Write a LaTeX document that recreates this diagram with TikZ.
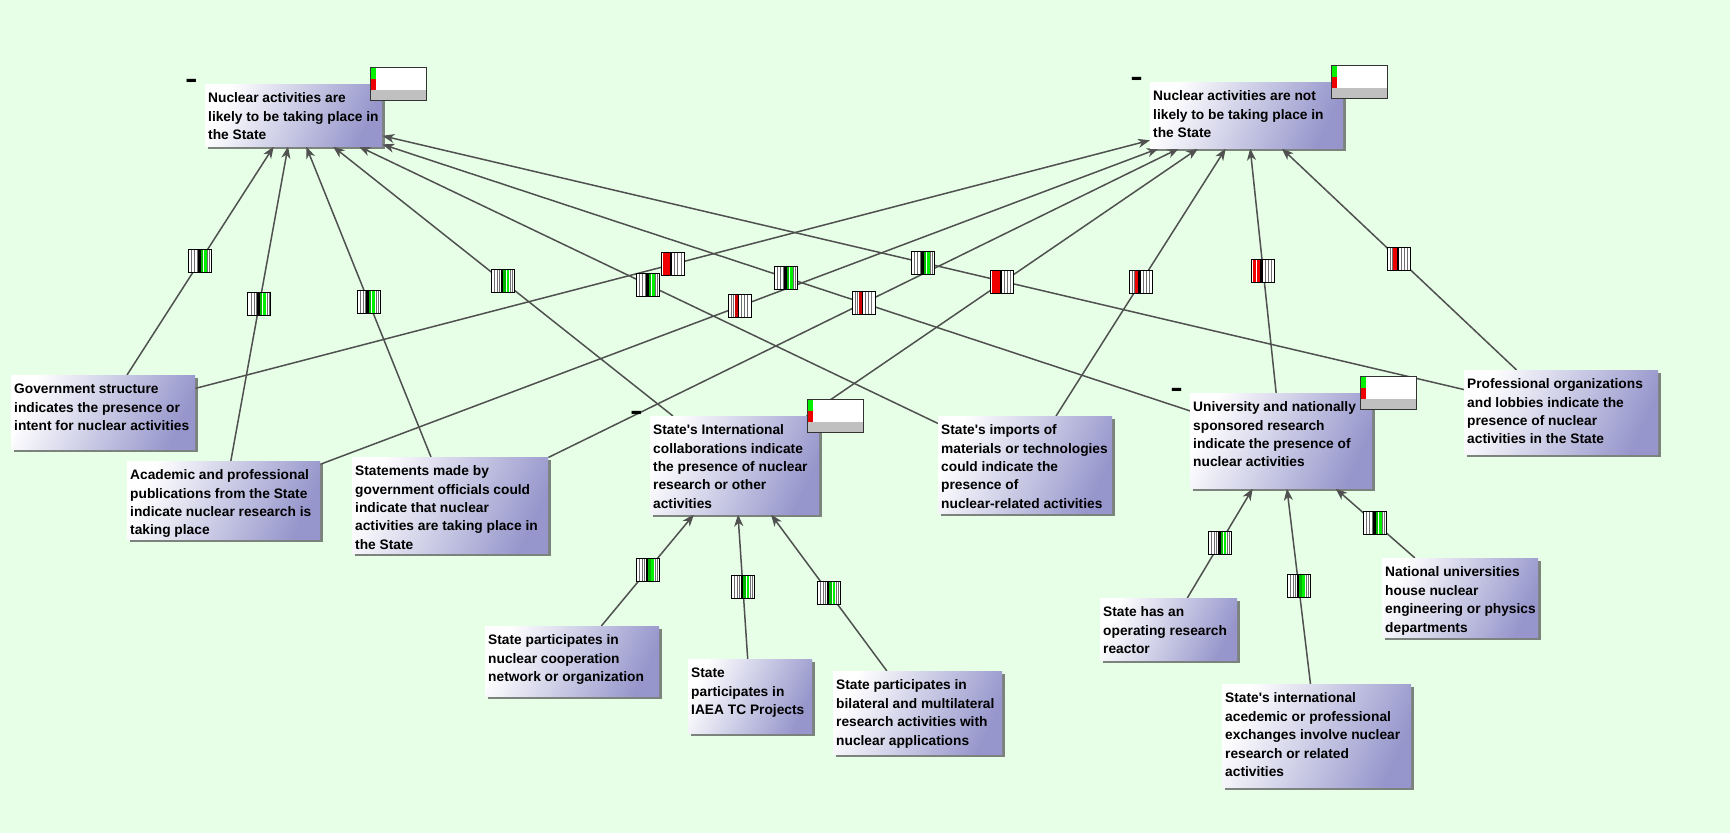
\documentclass[tikz,border=0pt]{standalone}
\usepackage{fontspec}
\newfontfamily\boxfont{Liberation Sans}
\usetikzlibrary{arrows.meta,shadows,calc}

\definecolor{canvas}{RGB}{230,255,230}
\definecolor{boxright}{RGB}{150,150,204}
\definecolor{edgegray}{RGB}{80,80,80}
\definecolor{evgreen}{RGB}{0,240,0}
\definecolor{evred}{RGB}{238,0,0}
\definecolor{evdark}{RGB}{205,0,0}
\definecolor{stripe}{RGB}{110,110,110}
\definecolor{band}{RGB}{192,192,192}

\pgfdeclarelayer{canvas}
\pgfdeclarelayer{edges}
\pgfsetlayers{canvas,edges,main}

% one vertical stripe of an evidence marker, from #1 to #2 (bp from the left edge)
\newcommand{\evstripe}[3]{\fill[#3] ($(path picture bounding box.south west)+(#1bp,0)$) rectangle ($(path picture bounding box.north west)+(#2bp,0)$);}

\tikzset{
  claim/.style={anchor=north west, inner xsep=3bp, inner ysep=3bp, text height=15.5bp,
    left color=white, right color=boxright, shading angle=65,
    drop shadow={shadow xshift=2.5bp, shadow yshift=-2.5bp, fill=black!65, opacity=0.75},
    font=\boxfont\bfseries\fontsize{13.8}{18.5}\selectfont, text=black},
  link/.style={draw=edgegray, line width=1.5bp, -{Stealth[length=12bp,width=9bp,inset=3.5bp]}},
  evbox/.style={draw=black, line width=1bp, fill=white, minimum width=23bp,
    minimum height=23bp, inner sep=0pt},
  evg/.style={evbox, path picture={
    \evstripe{2.6}{3.6}{stripe}\evstripe{5.6}{6.6}{stripe}\evstripe{7.8}{8.8}{stripe}
    \evstripe{9.4}{12}{black}\evstripe{12}{14.4}{evgreen!75!black}
    \evstripe{15.2}{17.8}{evgreen}\evstripe{18.6}{19.6}{stripe}\evstripe{20.6}{21.6}{stripe}}},
  evrr/.style={evbox, path picture={
    \evstripe{1.4}{4.6}{evred}\evstripe{5.2}{8.6}{evred}\evstripe{8.8}{11.2}{black}
    \evstripe{13}{14}{stripe}\evstripe{16}{17}{stripe}\evstripe{19.4}{20.4}{stripe}}},
  evr/.style={evbox, path picture={
    \evstripe{2.4}{3.4}{stripe}\evstripe{4.4}{5.4}{stripe}\evstripe{5.8}{9}{evred}
    \evstripe{9}{11.2}{black}\evstripe{13.4}{14.4}{stripe}\evstripe{16.8}{17.8}{stripe}
    \evstripe{19.8}{20.8}{stripe}}},
  evt/.style={evbox, path picture={
    \evstripe{2.4}{3.4}{stripe}\evstripe{4.8}{5.8}{stripe}\evstripe{6.6}{9.6}{evdark}
    \evstripe{9.6}{10.8}{black}\evstripe{12.6}{13.6}{stripe}\evstripe{15.8}{16.8}{stripe}
    \evstripe{19}{20}{stripe}}},
  meter/.style={anchor=north west, draw=black!80, line width=1bp, fill=white,
    minimum width=56bp, minimum height=33bp, inner sep=0pt, path picture={
    \fill[band] ($(path picture bounding box.south west)+(0,11bp)$) rectangle (path picture bounding box.south east);
    \fill[evgreen] (path picture bounding box.north west) rectangle ($(path picture bounding box.north west)+(5.5bp,-11bp)$);
    \fill[evred] ($(path picture bounding box.north west)+(0,-11bp)$) rectangle ($(path picture bounding box.north west)+(5.5bp,-22bp)$);}},
  collapse/.style={anchor=base, inner sep=0pt, font=\boxfont\bfseries\fontsize{20}{20}\selectfont},
}

% \claim{name}{x}{y}{width}{height}{lines}: statement box with its top-left corner at (x,y)
\newcommand{\claim}[6]{%
  \pgfmathsetmacro{\claimW}{#4-6}%
  \pgfmathsetmacro{\claimD}{#5-21.5}%
  \node[claim, text depth=\claimD bp] (#1) at (#2,#3)
    {\makebox[\claimW bp][l]{\begin{tabular}[t]{@{}l@{}}#6\end{tabular}}};%
}
% status meter and collapse sign of a hypothesis box
\newcommand{\hypmarks}[1]{%
  \node[meter] (#1meter) at ($(#1.north east)+(-12bp,17bp)$) {};
  \node[collapse] (#1sign) at ($(#1.north west)+(-13.5bp,-5.5bp)$) {\scalebox{0.95}[1.6]{–}};
}

\begin{document}
\begin{tikzpicture}[x=1bp,y=-1bp]
\begin{pgfonlayer}{canvas}
  \fill[canvas] (0,0) rectangle (1730,833);
\end{pgfonlayer}
\useasboundingbox (0,0) rectangle (1730,833);

% hypotheses
\claim{A}{205}{84}{177}{62}{Nuclear activities are\\likely to be taking place in\\the State}
\claim{B}{1150}{82}{193}{66}{Nuclear activities are not\\likely to be taking place in\\the State}
% indicators
\claim{C}{11}{375}{184}{74}{Government structure\\indicates the presence or\\intent for nuclear activities}
\claim{D}{127}{461}{193}{78}{Academic and professional\\publications from the State\\indicate nuclear research is\\taking place}
\claim{E}{352}{457}{196}{96}{Statements made by\\government officials could\\indicate that nuclear\\activities are taking place in\\the State}
\claim{F}{650}{416}{169}{98}{State\textquotesingle s International\\collaborations indicate\\the presence of nuclear\\research or other\\activities}
\claim{G}{938}{416}{174}{97}{State\textquotesingle s imports of\\materials or technologies\\could indicate the\\presence of\\nuclear-related activities}
\claim{H}{1190}{393}{182}{95}{University and nationally\\sponsored research\\indicate the presence of\\nuclear activities}
\claim{I}{1464}{370}{194}{84}{Professional organizations\\and lobbies indicate the\\presence of nuclear\\activities in the State}
% supporting evidence
\claim{J}{485}{626}{174}{70}{State participates in\\nuclear cooperation\\network or organization}
\claim{K}{688}{659}{124}{74}{State\\participates in\\IAEA TC Projects}
\claim{L}{833}{671}{169}{83}{State participates in\\bilateral and multilateral\\research activities with\\nuclear applications}
\claim{M}{1100}{598}{137}{62}{State has an\\operating research\\reactor}
\claim{N}{1382}{558}{156}{79}{National universities\\house nuclear\\engineering or physics\\departments}
\claim{O}{1222}{684}{189}{103}{State\textquotesingle s international\\acedemic or professional\\exchanges involve nuclear\\research or related\\activities}

\hypmarks{A}
\hypmarks{B}
\hypmarks{F}
\hypmarks{H}

\begin{pgfonlayer}{edges}
  \draw[link] (C) -- coordinate[midway] (pCA) (A);
  \draw[link] (D) -- coordinate[midway] (pDA) (A);
  \draw[link] (E) -- coordinate[midway] (pEA) (A);
  \draw[link] (F) -- coordinate[midway] (pFA) (A);
  \draw[link] (G) -- coordinate[midway] (pGA) (A);
  \draw[link] (H) -- coordinate[midway] (pHA) (A);
  \draw[link] (I) -- coordinate[midway] (pIA) (A);
  \draw[link] (C) -- coordinate[midway] (pCB) (B);
  \draw[link] (D) -- coordinate[midway] (pDB) (B);
  \draw[link] (E) -- coordinate[midway] (pEB) (B);
  \draw[link] (F) -- coordinate[midway] (pFB) (B);
  \draw[link] (G) -- coordinate[midway] (pGB) (B);
  \draw[link] (H) -- coordinate[midway] (pHB) (B);
  \draw[link] (I) -- coordinate[midway] (pIB) (B);
  \draw[link] (J) -- coordinate[midway] (pJF) (F);
  \draw[link] (K) -- coordinate[midway] (pKF) (F);
  \draw[link] (L) -- coordinate[midway] (pLF) (F);
  \draw[link] (M) -- coordinate[midway] (pMH) (H);
  \draw[link] (O) -- coordinate[midway] (pOH) (H);
  \draw[link] (N) -- coordinate[midway] (pNH) (H);

  \node[evg] (mCA) at (pCA) {};
  \node[evg] (mDA) at (pDA) {};
  \node[evg] (mEA) at (pEA) {};
  \node[evg] (mFA) at (pFA) {};
  \node[evg] (mGA) at (pGA) {};
  \node[evg] (mHA) at (pHA) {};
  \node[evg] (mIA) at (pIA) {};
  \node[evrr] (mCB) at (pCB) {};
  \node[evt] (mDB) at (pDB) {};
  \node[evt] (mEB) at (pEB) {};
  \node[evrr] (mFB) at (pFB) {};
  \node[evr] (mGB) at (pGB) {};
  \node[evrr] (mHB) at (pHB) {};
  \node[evr] (mIB) at (pIB) {};
  \node[evg] (mJF) at (pJF) {};
  \node[evg] (mKF) at (pKF) {};
  \node[evg] (mLF) at (pLF) {};
  \node[evg] (mMH) at (pMH) {};
  \node[evg] (mOH) at (pOH) {};
  \node[evg] (mNH) at (pNH) {};
\end{pgfonlayer}
\end{tikzpicture}
\end{document}
